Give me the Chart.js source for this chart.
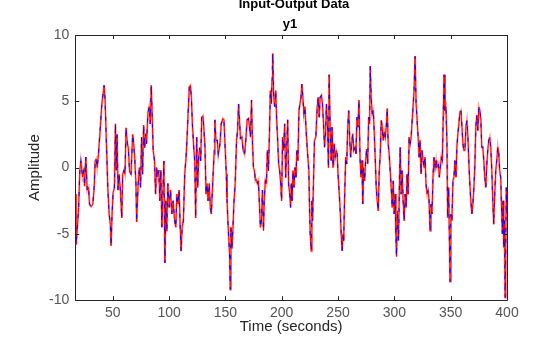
<!DOCTYPE html>
<html>
<head>
<meta charset="utf-8">
<script src="https://cdn.jsdelivr.net/npm/chart.js@4.4.1/dist/chart.umd.min.js"></script>
<style>
  body { margin: 0; background: #fff; }
  #grafico { display: block; }
</style>
</head>
<body>
<canvas id="grafico" width="560" height="337"></canvas>
<script>
// muestras de la salida y1 (tiempo en segundos, amplitud)
var timeSec = [
  16.7,17.3,18.2,19.7,20.8,21.7,23.2,24.4,25.0,26.1,27.3,28.5,29.4,30.8,32.3,33.5,34.4,35.3,36.2,37.3,
  38.8,40.3,41.8,42.3,43.2,44.4,45.6,46.8,47.9,48.5,49.4,50.3,51.5,52.4,53.0,53.8,54.7,55.6,56.8,58.0,
  58.8,60.0,60.9,61.8,63.0,63.8,65.0,66.2,67.7,68.6,69.4,70.6,71.2,72.4,73.6,74.7,75.6,76.5,77.4,78.3,
  79.2,80.0,81.2,82.4,83.3,84.2,85.1,85.9,87.1,88.0,88.9,90.1,90.9,91.8,92.7,93.6,94.5,95.4,96.3,97.1,
  98.0,98.9,100.1,101.3,102.4,103.6,104.8,106.0,106.9,108.0,108.9,109.8,110.7,111.6,112.7,113.9,115.1,116.0,116.9,118.0,
  118.9,119.8,120.7,121.9,122.8,123.6,124.5,125.4,126.3,127.2,128.1,129.0,130.1,131.0,131.9,132.8,133.7,134.6,135.7,136.6,
  137.5,138.7,139.9,140.7,141.6,142.8,143.7,145.2,146.3,147.8,148.7,149.9,150.8,151.4,152.2,153.1,153.7,154.3,154.9,155.8,
  156.7,157.5,158.7,159.9,160.8,161.7,162.5,163.4,164.6,165.8,167.0,168.1,169.3,170.5,171.4,172.3,173.2,174.0,174.9,175.8,
  176.7,177.6,178.5,179.3,180.2,181.1,182.0,182.9,183.8,184.6,185.5,186.4,187.3,188.2,189.1,189.9,190.8,191.4,192.0,192.9,
  193.8,194.7,195.5,196.4,197.3,198.2,199.1,199.9,200.8,201.7,202.6,203.5,204.4,205.3,206.1,207.0,207.9,208.5,209.1,210.0,
  210.9,211.8,212.6,213.5,214.4,215.3,216.2,217.1,217.9,218.8,219.7,220.6,221.5,222.4,223.2,224.1,224.7,225.3,226.2,226.8,
  227.4,228.3,229.1,230.3,231.5,232.4,233.3,234.1,235.3,236.2,237.1,238.0,238.9,239.7,240.6,241.5,242.1,243.0,243.9,244.7,
  245.6,246.5,247.4,248.3,249.2,250.0,250.9,251.8,252.7,253.6,254.5,255.0,255.9,256.8,257.7,258.6,259.5,260.4,261.2,262.1,
  263.0,263.9,265.1,265.9,266.8,267.7,268.6,269.5,270.4,271.3,271.9,272.7,273.6,274.5,275.4,276.3,277.2,278.0,278.6,279.5,
  280.4,281.3,282.2,283.1,283.9,284.8,285.7,286.6,287.5,288.4,289.2,290.1,291.0,291.9,292.8,293.7,294.5,295.4,296.3,297.2,
  298.1,299.0,299.8,300.7,301.3,301.9,302.8,303.7,304.6,305.2,306.0,306.9,307.8,308.7,309.6,310.5,311.3,312.2,313.1,314.0,
  314.9,315.8,316.6,317.5,318.4,319.3,320.2,321.1,322.0,322.8,323.7,324.6,325.5,326.4,327.2,328.1,329.0,329.9,330.8,331.7,
  332.5,333.4,334.3,335.2,336.1,337.0,337.6,339.1,339.9,340.8,341.7,342.6,343.5,344.1,344.9,345.8,346.7,347.3,348.2,348.8,
  349.4,350.2,351.1,352.0,352.9,353.8,354.7,355.5,356.4,357.3,358.2,359.1,360.0,360.9,361.7,362.6,363.5,364.4,365.3,366.2,
  367.0,367.9,368.8,369.7,370.6,371.5,372.3,373.2,374.1,375.0,375.9,376.8,377.6,378.5,379.4,380.3,381.2,382.1,382.9,383.8,
  384.7,385.6,386.5,387.4,388.2,389.1,390.0,390.9,391.8,392.7,393.5,394.4,395.3,395.9,396.5,397.1,397.7,398.3,398.9,399.4,
  400.0
]
var amplitude = [
  -2.0,-5.8,-5.0,-3.0,-0.2,0.5,-0.7,-0.2,-1.4,0.8,-1.7,-1.5,-2.75,-2.95,-2.75,-1.5,0.5,0.65,0.0,1.0,
  2.8,4.8,5.8,6.2,5.1,1.8,-1.5,-3.5,-4.3,-5.9,-3.5,-1.9,-1.5,3.3,-0.2,2.5,-1.7,-0.5,-1.7,-3.8,
  -0.5,-0.2,-0.5,3.0,1.8,1.5,-0.35,-0.5,2.5,1.8,0.9,-1.2,-4.1,-1.5,0.0,-1.5,2.3,-0.5,3.2,1.5,
  2.55,1.8,4.1,4.6,3.3,6.2,3.6,1.3,0.5,-2.0,0.0,-0.7,-0.2,-2.5,-0.2,-4.5,-2.0,0.5,-7.2,-2.5,
  -4.8,-1.2,-3.0,-1.7,-3.5,-2.5,-3.9,-4.5,-2.0,-2.75,-1.7,-4.3,-6.3,-4.5,-4.0,-0.5,0.8,2.3,4.1,6.1,
  6.2,5.3,3.3,1.5,0.5,-3.8,2.3,-1.5,0.8,1.5,0.5,3.8,3.9,2.8,1.5,-2.0,-1.2,-2.5,-1.2,-3.0,
  -3.5,-1.2,1.0,3.6,2.05,2.05,1.0,1.8,3.3,3.7,3.6,1.3,-0.5,-2.25,-4.0,-5.5,-6.5,-9.2,-4.5,-6.1,
  -4.6,-2.75,-1.2,2.05,2.8,4.8,3.6,2.2,2.3,1.3,1.0,2.05,3.6,3.7,3.05,2.3,5.1,2.05,0.0,-0.25,
  -1.0,-0.9,-1.2,-1.0,-2.75,-4.5,-4.0,-1.7,-4.75,-2.25,-1.0,-1.2,1.3,-0.25,2.55,5.8,4.8,6.6,8.6,5.3,
  4.6,5.8,3.6,2.05,0.3,-0.25,-1.2,-2.5,2.3,1.3,3.3,-0.75,1.3,3.6,-1.2,-1.9,-3.0,-1.2,-2.5,-0.23,
  -1.5,0.0,-0.73,1.3,0.53,4.3,4.8,5.3,6.3,5.3,4.07,4.6,3.05,1.8,0.78,-0.23,-3.0,-5.0,-6.3,-2.5,
  -4.0,-0.73,2.05,2.3,4.6,5.3,3.8,5.3,5.45,4.8,3.3,1.54,2.55,4.8,3.3,0.0,7.0,3.05,0.53,3.05,
  0.0,1.8,0.78,1.3,1.04,-0.48,-1.74,-3.0,-4.77,-6.29,-5.0,-5.5,-2.0,0.78,0.28,3.05,4.3,2.05,0.78,1.8,
  2.55,1.3,1.54,1.04,3.8,3.05,5.08,0.78,-0.73,0.53,-2.75,0.0,-1.0,0.53,1.4,0.28,3.8,3.3,7.65,5.08,
  4.07,4.3,2.55,0.53,-1.5,-2.5,-3.26,-0.23,1.04,3.56,3.05,2.05,2.7,2.3,3.05,4.45,1.8,1.04,-0.23,-1.5,
  -3.0,-1.0,-3.5,-2.0,-5.0,-6.7,-3.26,-5.5,-0.73,1.54,-2.0,-0.23,-2.5,-4.0,-2.0,-3.0,-0.48,-2.0,2.3,1.8,
  2.3,3.56,4.57,5.83,8.4,4.82,3.56,2.3,0.78,2.05,-0.48,1.29,0.53,0.0,0.78,-1.24,-2.0,-1.74,-2.5,-4.77,
  -2.75,-3.5,-0.73,0.78,0.0,0.53,0.0,0.28,-0.73,0.0,0.78,0.53,4.3,7.0,4.3,4.57,1.8,-3.77,-1.5,-5.0,
  -8.6,-3.5,-4.0,-1.0,-0.73,0.53,-0.73,1.54,2.55,3.3,4.2,4.3,3.05,1.8,1.29,1.29,3.05,3.56,2.3,0.28,
  -1.24,-2.5,-3.5,-2.75,-1.5,0.28,3.05,3.95,2.8,4.57,4.3,3.56,1.54,1.54,0.53,-0.73,-1.5,0.28,1.29,2.05,
  2.3,1.54,-0.23,-2.5,-4.27,-2.0,-0.23,0.53,1.54,1.04,-0.23,-0.73,-3.5,-5.0,-2.5,-6.0,-4.0,-9.8,-6.0,-1.5,
  -3.5
]
var xTicks = [50, 100, 150, 200, 250, 300, 350, 400]
var yTicks = [-10, -5, 0, 5, 10]
var titulo = "Input-Output Data"
var subtitulo = "y1"

var fuente = "'Liberation Sans', Arial, sans-serif"

// marco de los ejes con marcas hacia adentro y titulos arriba
var marcoEjes = {
    id: 'marcoEjes',
    afterDraw: function(chart){
        var ctx = chart.ctx
        var a = chart.chartArea
        var sx = chart.scales.x
        var sy = chart.scales.y
        ctx.save()
        ctx.strokeStyle = '#262626'
        ctx.lineWidth = 1
        ctx.beginPath()
        ctx.rect(Math.round(a.left) + 0.5, Math.round(a.top) + 0.5,
                 Math.round(a.right - a.left), Math.round(a.bottom - a.top))
        ctx.stroke()
        ctx.beginPath()
        xTicks.forEach(function(v){
            var px = Math.round(sx.getPixelForValue(v)) + 0.5
            ctx.moveTo(px, a.bottom); ctx.lineTo(px, a.bottom - 4)
            ctx.moveTo(px, a.top); ctx.lineTo(px, a.top + 4)
        })
        yTicks.forEach(function(v){
            var py = Math.round(sy.getPixelForValue(v)) + 0.5
            ctx.moveTo(a.left, py); ctx.lineTo(a.left + 4, py)
            ctx.moveTo(a.right, py); ctx.lineTo(a.right - 4, py)
        })
        ctx.stroke()
        ctx.fillStyle = '#000'
        ctx.textAlign = 'center'
        ctx.textBaseline = 'alphabetic'
        ctx.font = "bold 13px " + fuente
        ctx.fillText(titulo, 294, 8)
        ctx.fillText(subtitulo, 290, 28)
        ctx.restore()
    }
}

function crearGrafico(){
    var g = document.getElementById("grafico").getContext('2d')
    var puntos = timeSec.map(function(t, i){ return {x: t, y: amplitude[i]} })

    new Chart(g, {
        type: 'line',
        data: {
            datasets: [
            {
                label: "y1 (modelo)",
                data: puntos,
                borderColor: 'rgba(0,0,255,0.8)',
                borderWidth: 1.2,
                borderDash: [4, 7],
                pointRadius: 0,
                order: 0
            },
            {
                label: "y1",
                data: puntos,
                borderColor: 'rgb(255,0,0)',
                borderWidth: 1,
                pointRadius: 0,
                order: 1
            },
            {
                label: "y1 (banda)",
                data: puntos,
                borderColor: 'rgba(255,60,60,0.45)',
                borderWidth: 2.2,
                pointRadius: 0,
                order: 2
            }
            ]
        },
        options: {
            responsive: false,
            maintainAspectRatio: false,
            animation: false,
            layout: { padding: { top: 35, right: 53, left: 26, bottom: 1 } },
            plugins: {
                legend: { display: false },
                tooltip: { enabled: false }
            },
            scales: {
                x: {
                    type: 'linear',
                    min: 16.7,
                    max: 400,
                    afterBuildTicks: function(s){ s.ticks = xTicks.map(function(v){ return {value: v} }) },
                    grid: { display: false, drawTicks: false },
                    border: { display: false },
                    ticks: { color: '#555', padding: 5, maxRotation: 0, font: { family: fuente, size: 14 } },
                    title: {
                        display: true,
                        text: 'Time (seconds)',
                        color: '#262626',
                        padding: { top: -9, bottom: 0 },
                        font: { family: fuente, size: 15 }
                    }
                },
                y: {
                    min: -10,
                    max: 10,
                    afterBuildTicks: function(s){ s.ticks = yTicks.map(function(v){ return {value: v} }) },
                    grid: { display: false, drawTicks: false },
                    border: { display: false },
                    ticks: { color: '#555', padding: 6, font: { family: fuente, size: 14 } },
                    title: {
                        display: true,
                        text: 'Amplitude',
                        color: '#262626',
                        padding: { top: 0, bottom: -1 },
                        font: { family: fuente, size: 15 }
                    }
                }
            }
        },
        plugins: [marcoEjes]
    })
}
document.addEventListener('DOMContentLoaded', crearGrafico)
</script>
</body>
</html>
